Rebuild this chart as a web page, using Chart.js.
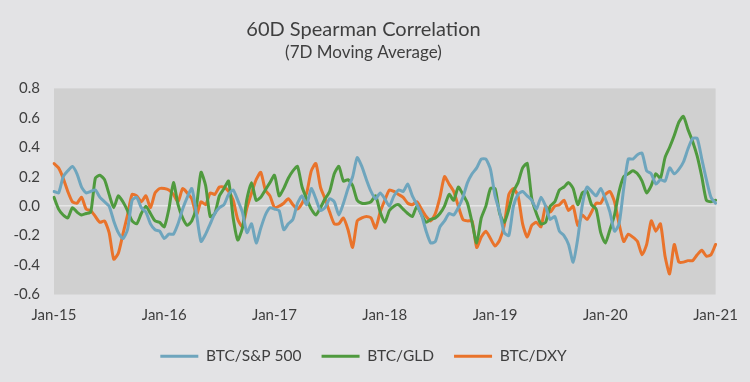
<!DOCTYPE html>
<html>
<head>
<meta charset="utf-8">
<script src="https://cdn.jsdelivr.net/npm/chart.js@4.4.1/dist/chart.umd.min.js"></script>
<style>
  html, body { margin: 0; padding: 0; background: #e3e3e5; }
  #wrap { width: 750px; height: 382px; }
</style>
</head>
<body>
<div id="wrap"><canvas id="chart" width="750" height="382"></canvas></div>
<script>
// half-month dates, Jan-15 .. Jan-21
const dates = []
for (let y = 2015; y <= 2020; y++) {
  for (let m = 1; m <= 12; m++) {
    const mm = String(m).padStart(2, "0")
    dates.push(`${y}-${mm}-01`, `${y}-${mm}-15`)
  }
}
dates.push("2021-01-01")

const yTicks = [-0.6, -0.4, -0.2, 0.0, 0.2, 0.4, 0.6, 0.8]

const btcSpx = [
  0.10, 0.09, 0.20, 0.24, 0.27, 0.22, 0.13, 0.09, 0.10, 0.11, 0.06, 0.03, 0.00, -0.10, -0.18, -0.22, -0.16, 0.04, 0.06, -0.01, -0.04,
  -0.12, -0.16, -0.17, -0.22, -0.19, -0.19, -0.12, -0.02, 0.06, 0.12, -0.05, -0.24, -0.19, -0.12, -0.05, -0.01, 0.01, 0.08, 0.11, 0.04, -0.04,
  -0.18, -0.12, -0.25, -0.15, -0.06, -0.01, -0.02, -0.03, -0.16, -0.12, -0.09, 0.02, 0.07, 0.01, 0.12, 0.05, -0.03, -0.01, 0.05, 0.03,
  -0.06, 0.02, 0.12, 0.20, 0.33, 0.27, 0.18, 0.10, 0.05, 0.09, 0.05, 0.00, 0.07, 0.11, 0.10, 0.15, 0.07, 0.01, -0.06, -0.17, -0.25,
  -0.24, -0.14, -0.10, -0.05, -0.06, -0.01, 0.06, 0.16, 0.22, 0.26, 0.32, 0.32, 0.25, 0.07, -0.04, -0.18, -0.20, 0.00, 0.08, 0.10,
  0.07, 0.04, -0.02, 0.06, 0.00, -0.09, -0.07, -0.17, -0.20, -0.26, -0.38, -0.22, 0.01, 0.13, 0.10, 0.07, 0.12, 0.05, -0.04, -0.17, -0.12,
  0.12, 0.32, 0.32, 0.35, 0.36, 0.24, 0.22, 0.15, 0.18, 0.17, 0.26, 0.22, 0.25, 0.30, 0.39, 0.46, 0.46, 0.32, 0.18, 0.06, 0.02
]

const btcGld = [
  0.06, -0.02, -0.06, -0.08, -0.01, -0.04, -0.06, -0.05, -0.04, 0.19, 0.21, 0.18, 0.08, -0.01, 0.07, 0.03, -0.03, -0.10, -0.12, -0.05, 0.00,
  -0.05, -0.10, -0.11, -0.14, -0.02, 0.16, 0.01, -0.08, -0.13, -0.10, 0.00, 0.23, 0.14, -0.07, -0.05, 0.07, 0.12, 0.17, -0.08, -0.23, -0.15,
  0.05, 0.16, 0.04, 0.06, 0.11, 0.16, 0.21, 0.07, 0.12, 0.19, 0.24, 0.27, 0.13, 0.05, -0.02, -0.06, -0.01, 0.05, 0.10, 0.22,
  0.27, 0.17, 0.18, 0.14, 0.04, 0.02, 0.02, 0.03, 0.07, -0.04, -0.11, -0.03, 0.00, 0.01, -0.02, -0.05, -0.07, 0.00, -0.06, -0.11, -0.09,
  -0.08, -0.05, 0.00, 0.08, 0.04, 0.13, 0.08, 0.02, -0.11, -0.25, -0.08, 0.00, 0.12, 0.12, -0.05, -0.11, -0.02, 0.10, 0.16, 0.26,
  0.29, 0.05, -0.05, -0.12, -0.11, 0.00, 0.03, 0.11, 0.13, 0.16, 0.12, 0.01, 0.09, 0.10, 0.01, -0.02, -0.18, -0.25, -0.16, -0.06, 0.10,
  0.20, 0.22, 0.24, 0.22, 0.17, 0.09, 0.14, 0.22, 0.19, 0.33, 0.40, 0.48, 0.57, 0.61, 0.52, 0.44, 0.34, 0.20, 0.04, 0.03, 0.04
]

const btcDxy = [
  0.29, 0.26, 0.19, 0.10, 0.03, 0.02, 0.06, -0.02, -0.03, -0.07, -0.11, -0.10, -0.18, -0.36, -0.32, -0.19, -0.06, 0.08, 0.07, 0.03, 0.07,
  -0.01, 0.09, 0.12, 0.12, 0.11, 0.08, 0.03, 0.12, 0.09, 0.05, -0.06, 0.03, 0.01, 0.09, 0.08, 0.13, 0.13, 0.10, 0.04, -0.09, -0.14,
  -0.01, 0.09, 0.18, 0.23, 0.11, 0.07, -0.01, 0.00, 0.02, 0.05, 0.01, -0.02, 0.02, 0.09, 0.24, 0.29, 0.13, 0.05, -0.04, -0.12,
  -0.12, -0.08, -0.16, -0.28, -0.10, -0.08, -0.07, -0.08, -0.15, -0.04, 0.04, 0.11, 0.10, 0.08, 0.06, 0.02, 0.01, 0.03, -0.02, -0.07, -0.10,
  -0.05, 0.06, 0.20, 0.15, 0.10, 0.00, -0.09, -0.10, -0.10, -0.28, -0.21, -0.17, -0.22, -0.27, -0.23, -0.13, 0.08, 0.12, 0.07, -0.12,
  -0.21, -0.13, -0.11, -0.14, 0.00, -0.04, 0.00, 0.01, 0.04, -0.03, 0.00, -0.13, -0.06, -0.09, -0.04, 0.02, 0.02, 0.08, 0.10, 0.03, -0.12,
  -0.24, -0.19, -0.21, -0.24, -0.33, -0.26, -0.10, -0.17, -0.12, -0.34, -0.46, -0.26, -0.38, -0.38, -0.37, -0.37, -0.33, -0.30, -0.34, -0.33, -0.26
]

const seriesNames = ["BTC/S&P 500", "BTC/GLD", "BTC/DXY"]
const seriesColors = ["#6ea5bd", "#4f9a3e", "#e9732b"]

const FONT = "Lato, 'Open Sans', sans-serif"

// grey plot area behind the lines
const plotBg = {
  id: "plotBg",
  beforeDraw(chart) {
    const { ctx, chartArea } = chart
    ctx.save()
    ctx.fillStyle = "#d0d0d0"
    ctx.fillRect(chartArea.left, chartArea.top, chartArea.right - chartArea.left, chartArea.bottom - chartArea.top)
    ctx.restore()
  },
}

const makeSet = (i, data) => ({
  label: seriesNames[i],
  data: data,
  borderColor: seriesColors[i],
  backgroundColor: seriesColors[i],
  borderWidth: 3,
  pointRadius: 0,
  tension: 0.2,
  borderCapStyle: "round",
  borderJoinStyle: "round",
})

new Chart(document.getElementById("chart"), {
  type: "line",
  data: {
    labels: dates,
    datasets: [makeSet(0, btcSpx), makeSet(1, btcGld), makeSet(2, btcDxy)],
  },
  options: {
    responsive: false,
    animation: false,
    layout: { padding: { left: 0, right: 23, top: 0, bottom: 8 } },
    plugins: {
      title: {
        display: true,
        text: "60D Spearman Correlation",
        color: "#3f3f3f",
        font: { family: FONT, size: 20, weight: "normal" },
        padding: { top: 18, bottom: 0 },
      },
      subtitle: {
        display: true,
        text: "(7D Moving Average)",
        color: "#3f3f3f",
        font: { family: FONT, size: 17, weight: "normal" },
        padding: { top: 0, bottom: 26 },
      },
      legend: {
        position: "bottom",
        labels: {
          color: "#3f3f3f",
          font: { family: FONT, size: 15.5 },
          boxWidth: 38,
          boxHeight: 3,
          padding: 20,
          generateLabels: function (chart) {
            const labels = Chart.defaults.plugins.legend.labels.generateLabels(chart)
            labels.forEach((l) => {
              l.lineWidth = 0
            })
            return labels
          },
        },
      },
      tooltip: { enabled: false },
    },
    scales: {
      x: {
        type: "category",
        offset: false,
        grid: { display: false, drawTicks: false },
        border: { display: false },
        ticks: {
          autoSkip: false,
          maxRotation: 0,
          minRotation: 0,
          padding: 12,
          color: "#3f3f3f",
          font: { family: FONT, size: 15 },
          callback: (value, index) => {
            const d = dates[index]
            return d.endsWith("-01-01") ? "Jan-" + d.slice(2, 4) : ""
          },
        },
        afterFit: (scale) => {
          scale.height = 34
        },
      },
      y: {
        min: -0.6,
        max: 0.8,
        afterBuildTicks: (scale) => {
          scale.ticks = yTicks.map((v) => ({ value: v }))
        },
        grid: {
          drawTicks: false,
          color: (c) => (c.tick && Math.abs(c.tick.value) < 1e-9 ? "#e6e6e6" : "rgba(0,0,0,0)"),
          lineWidth: 1.5,
        },
        border: { display: false },
        ticks: {
          padding: 14,
          color: "#3f3f3f",
          font: { family: FONT, size: 15 },
          callback: (v) => Number(v).toFixed(1),
        },
        afterFit: (scale) => {
          scale.width = 54
        },
      },
    },
  },
  plugins: [plotBg],
})
</script>
</body>
</html>
